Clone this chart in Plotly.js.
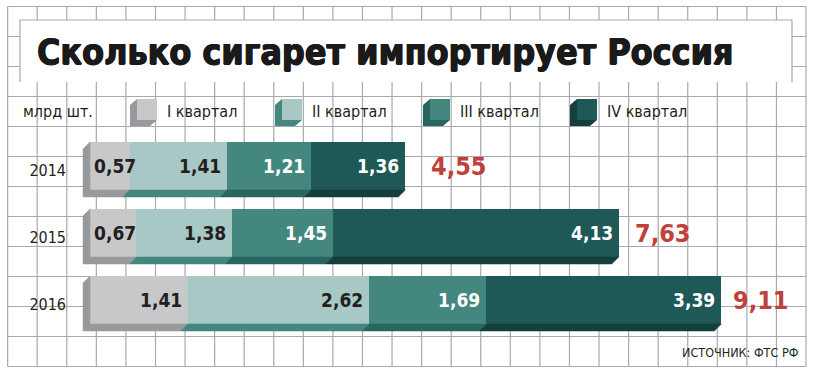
<!DOCTYPE html>
<html>
<head>
<meta charset="utf-8">
<script src="https://cdn.plot.ly/plotly-3.0.1.min.js"></script>
<style>html,body{margin:0;padding:0;background:#fff;}#chart{width:816px;height:382px;}</style>
</head>
<body>
<div id="chart"></div>
<script>
// ---- data ----
const years = ['2014', '2015', '2016'];
const seriesNames = ['I квартал', 'II квартал', 'III квартал', 'IV квартал'];
const q1 = [0.57, 0.67, 1.41];
const q2 = [1.41, 1.38, 2.62];
const q3 = [1.21, 1.45, 1.69];
const q4 = [1.36, 4.13, 3.39];
const totals = [4.55, 7.63, 9.11];
const unitLabel = 'млрд шт.';
const titleText = 'Сколько сигарет импортирует Россия';
const sourceText = 'ИСТОЧНИК: ФТС РФ';

// ---- styles ----
const series = [q1, q2, q3, q4];
const faceColors = ['#c7c8ca', '#a7c8c5', '#44877f', '#1f5957'];
const sideColors = ['#98999c', '#44877f', '#2a6560', '#133f3d'];
const labelColors = ['#231f20', '#231f20', '#ffffff', '#ffffff'];
const totalColor = '#c1403a';
const gridColor = '#a8a9ac';
const numFont = 'DejaVu Sans Condensed, DejaVu Sans, sans-serif';
const txtFont = 'DejaVu Sans Condensed, DejaVu Sans, sans-serif';
const titleFont = 'DejaVu Sans Condensed, DejaVu Sans, sans-serif';

// ---- geometry ----
const W = 816, H = 382, ML = 70;
const pxPerUnit = 69.3, x0px = 90;
const rowPx = 67, row0px = 166;
const xr0 = (ML - x0px) / pxPerUnit, xr1 = xr0 + (W - ML) / pxPerUnit;
const yTop = -row0px / rowPx, yBot = (H - row0px) / rowPx;
const barW = 48 / rowPx, h = barW / 2;
const dxU = 7 / pxPerUnit, dyU = 7 / rowPx;
const PX = p => (p - ML) / (W - ML);
const PY = p => 1 - p / H;
const idx = years.map((_, i) => i);
const fmt = v => v.toFixed(2).replace('.', ',');

const traces = [];
const annotations = [];
// stacked bars
series.forEach((s, j) => {
  traces.push({
    type: 'bar', orientation: 'h', y: idx, x: s, width: barW,
    marker: {color: faceColors[j], line: {width: 0}},
    hoverinfo: 'skip', showlegend: false, name: seriesNames[j]
  });
});
// 3D side faces
series.forEach((s, j) => {
  const xs = [], ys = [];
  idx.forEach(i => {
    let st = 0;
    for (let k = 0; k < j; k++) st += series[k][i];
    const en = st + s[i];
    const yb = i + h;
    xs.push(st, en, en - dxU, st - dxU, st, null);
    ys.push(yb, yb, yb + dyU, yb + dyU, yb, null);
    if (j === 0) {
      xs.push(0, 0, -dxU, -dxU, 0, null);
      ys.push(i - h, i + h, i + h + dyU, i - h + dyU, i - h, null);
    }
    // value labels
    const wpx = s[i] * pxPerUnit;
    const small = wpx < 48;
    annotations.push({
      xref: 'x', yref: 'y', x: small ? st : en, y: i,
      xanchor: small ? 'left' : 'right', xshift: small ? 2 : -4, yanchor: 'middle',
      text: fmt(s[i]), showarrow: false,
      font: {family: numFont, size: 19, weight: 700, color: labelColors[j]}
    });
  });
  traces.push({
    type: 'scatter', x: xs, y: ys, mode: 'lines', fill: 'toself',
    line: {width: 0.5, color: sideColors[j]}, fillcolor: sideColors[j],
    hoverinfo: 'skip', showlegend: false
  });
});
// totals
const totalShift = [24, 14, 10];
totals.forEach((t, i) => {
  annotations.push({
    xref: 'x', yref: 'y', x: t, y: i, xanchor: 'left', yanchor: 'middle', xshift: totalShift[i],
    text: fmt(t), showarrow: false,
    font: {family: numFont, size: 25, weight: 700, color: totalColor}
  });
});

// ---- decorations ----
const shapes = [];
const gl = {color: gridColor, width: 1.2};
for (let k = -1; k <= 26; k++) {
  const x = 37.2 + 29.57 * k;
  shapes.push({type: 'line', xref: 'paper', yref: 'paper', x0: PX(x), x1: PX(x), y0: PY(6.5), y1: PY(366.5), line: gl, layer: 'below'});
}
for (let k = 0; k <= 12; k++) {
  const y = 6.5 + 30 * k;
  shapes.push({type: 'line', xref: 'paper', yref: 'paper', x0: PX(7.6), x1: PX(806), y0: PY(y), y1: PY(y), line: gl, layer: 'below'});
}
// title box
shapes.push({type: 'rect', xref: 'paper', yref: 'paper', x0: PX(20), x1: PX(792), y0: PY(20), y1: PY(82), fillcolor: '#ffffff', line: {width: 0}, layer: 'below'});
shapes.push({type: 'path', xref: 'paper', yref: 'paper', layer: 'below', line: gl,
  path: `M ${PX(20)} ${PY(82)} L ${PX(20)} ${PY(20)} L ${PX(792)} ${PY(20)} L ${PX(792)} ${PY(82)}`});

// legend
const legLeft = [130, 275, 423, 570];
seriesNames.forEach((n, j) => {
  const L = legLeft[j], T = 99, B = 120, d = 7, fw = 20;
  const poly = pts => 'M ' + pts.map(p => `${PX(p[0])} ${PY(p[1])}`).join(' L ') + ' Z';
  shapes.push({type: 'path', xref: 'paper', yref: 'paper', layer: 'above', fillcolor: sideColors[j], line: {width: 0},
    path: poly([[L + d, T], [L, T + 6], [L, B + 6], [L + fw, B + 6], [L + d + fw, B], [L + d, B]])});
  shapes.push({type: 'rect', xref: 'paper', yref: 'paper', layer: 'above', fillcolor: faceColors[j], line: {width: 0},
    x0: PX(L + d), x1: PX(L + d + fw), y0: PY(T), y1: PY(B)});
  annotations.push({xref: 'paper', yref: 'paper', x: PX(L + 35), y: PY(112), xanchor: 'left', yanchor: 'middle',
    text: n, showarrow: false, font: {family: txtFont, size: 16, color: '#231f20'}});
});
annotations.push({xref: 'paper', yref: 'paper', x: PX(21), y: PY(112), xanchor: 'left', yanchor: 'middle',
  text: unitLabel, showarrow: false, font: {family: txtFont, size: 16, color: '#231f20'}});
annotations.push({xref: 'paper', yref: 'paper', x: PX(801), y: PY(352), xanchor: 'right', yanchor: 'middle',
  text: sourceText, showarrow: false, font: {family: txtFont, size: 12.5, color: '#231f20'}});

const layout = {
  width: W, height: H, autosize: false,
  margin: {l: ML, r: 0, t: 0, b: 0, pad: 0},
  paper_bgcolor: '#ffffff', plot_bgcolor: 'rgba(0,0,0,0)',
  barmode: 'stack', showlegend: false,
  title: {text: titleText, xref: 'container', yref: 'container', x: 37 / W, xanchor: 'left',
    y: 1 - 52 / H, yanchor: 'middle',
    font: {family: titleFont, size: 35.5, weight: 700, color: '#1a1a1a',
      shadow: '0.6px 0 0 #1a1a1a, -0.6px 0 0 #1a1a1a, 0 0.4px 0 #1a1a1a'}},
  xaxis: {range: [xr0, xr1], visible: false, fixedrange: true},
  yaxis: {range: [yBot, yTop], tickvals: idx.map(i => i + 0.07), ticktext: years,
    ticks: '', showgrid: false, zeroline: false, showline: false, fixedrange: true, automargin: false,
    ticklabelstandoff: 3,
    tickfont: {family: txtFont, size: 16, color: '#231f20'}},
  shapes: shapes, annotations: annotations
};
Plotly.newPlot('chart', traces, layout, {staticPlot: true, displayModeBar: false});
</script>
</body>
</html>
